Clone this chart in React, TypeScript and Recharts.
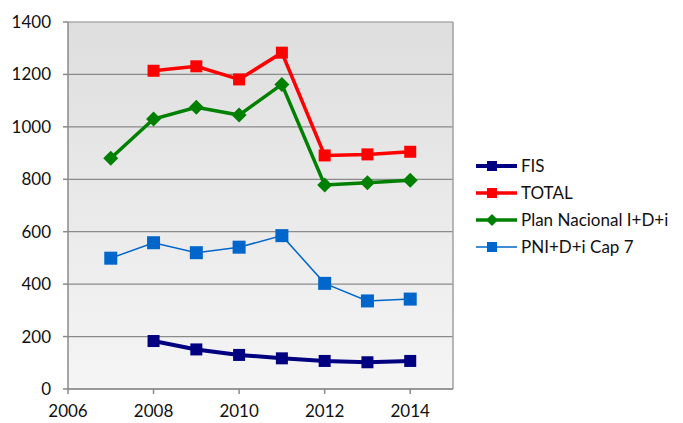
import { LineChart, Line, XAxis, YAxis, CartesianGrid, ReferenceLine } from "recharts";

const years = [2007, 2008, 2009, 2010, 2011, 2012, 2013, 2014];
const fis = [null, 183, 151, 130, 117, 107, 102, 107];
const total = [null, 1214, 1231, 1181, 1283, 891, 895, 905];
const planNacional = [880, 1030, 1075, 1045, 1162, 778, 787, 796];
const pniCap7 = [499, 558, 520, 541, 585, 403, 336, 343];
const xTicks = [2006, 2008, 2010, 2012, 2014];
const yTicks = [0, 200, 400, 600, 800, 1000, 1200, 1400];

const data = years.map((year, i) => ({
  year,
  fis: fis[i],
  total: total[i],
  plan: planNacional[i],
  pni: pniCap7[i],
}));

const series = [
  { key: "fis", name: "FIS", color: "#000080", width: 4, shape: "square", size: 12 },
  { key: "total", name: "TOTAL", color: "#ff0000", width: 3.5, shape: "square", size: 12 },
  { key: "plan", name: "Plan Nacional I+D+i", color: "#008000", width: 3.5, shape: "diamond", size: 15 },
  { key: "pni", name: "PNI+D+i Cap 7", color: "#0066cc", width: 1.5, shape: "square", size: 13 },
];

const font = "Lato, 'Open Sans', sans-serif";

function marker(shape: string, color: string, size: number) {
  return (props: any) => {
    const { cx, cy, index } = props;
    if (cx == null || cy == null || props.value == null) return <g key={index} />;
    const h = size / 2;
    if (shape === "diamond") {
      return (
        <polygon
          key={index}
          points={`${cx},${cy - h} ${cx + h},${cy} ${cx},${cy + h} ${cx - h},${cy}`}
          fill={color}
        />
      );
    }
    return <rect key={index} x={cx - h} y={cy - h} width={size} height={size} fill={color} />;
  };
}

function LegendBox() {
  return (
    <div style={{ position: "absolute", left: 475, top: 152, fontFamily: font, fontSize: 17, color: "#111" }}>
      {series.map((s) => (
        <div key={s.key} style={{ display: "flex", alignItems: "center", height: 27 }}>
          <svg width={44} height={16} style={{ marginRight: 2 }}>
            <line x1={1} y1={8} x2={42} y2={8} stroke={s.color} strokeWidth={s.width} />
            {s.shape === "diamond" ? (
              <polygon points="17,2 23,8 17,14 11,8" fill={s.color} />
            ) : (
              <rect x={12} y={3} width={10} height={10} fill={s.color} />
            )}
          </svg>
          <span>{s.name}</span>
        </div>
      ))}
    </div>
  );
}

export default function App() {
  return (
    <div style={{ position: "absolute", left: 0, top: 0, width: 683, height: 423 }}>
      <LineChart width={683} height={423} data={data} margin={{ top: 22, right: 230, bottom: 0, left: 0 }}>
        <defs>
          <linearGradient id="bg" x1="0" y1="0" x2="0" y2="1">
            <stop offset="0%" stopColor="#dedede" />
            <stop offset="100%" stopColor="#f5f5f5" />
          </linearGradient>
        </defs>
        <CartesianGrid vertical={false} fill="url(#bg)" stroke="#8a8a8a" strokeWidth={1.2} />
        <ReferenceLine x={2015} stroke="#a0a0a0" strokeWidth={1.5} />
        <XAxis
          dataKey="year"
          type="number"
          domain={[2006, 2015]}
          ticks={xTicks}
          allowDataOverflow
          height={34}
          stroke="#8a8a8a"
          strokeWidth={1.5}
          tickSize={5}
          tickMargin={11}
          tick={{ fill: "#111", fontSize: 17, fontFamily: font }}
        />
        <YAxis
          domain={[0, 1400]}
          ticks={yTicks}
          width={68}
          stroke="#8a8a8a"
          strokeWidth={1.5}
          tickSize={5}
          tickMargin={12}
          tick={{ fill: "#111", fontSize: 17, fontFamily: font }}
        />
        {series.map((s) => (
          <Line
            key={s.key}
            dataKey={s.key}
            name={s.name}
            stroke={s.color}
            strokeWidth={s.width}
            dot={marker(s.shape, s.color, s.size)}
            activeDot={false}
            isAnimationActive={false}
          />
        ))}
      </LineChart>
      <LegendBox />
    </div>
  );
}
